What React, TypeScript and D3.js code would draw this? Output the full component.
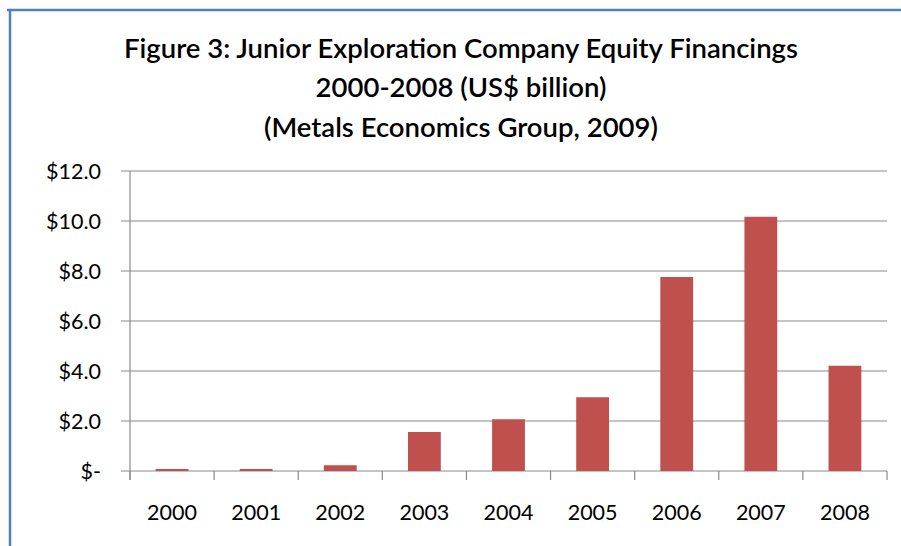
import React from "react";
import * as d3 from "d3";

const years = ["2000", "2001", "2002", "2003", "2004", "2005", "2006", "2007", "2008"];
const values = [0.08, 0.08, 0.23, 1.56, 2.07, 2.95, 7.76, 10.17, 4.21];
const yTicks = [0, 2, 4, 6, 8, 10, 12];
const titleLines = [
  "Figure 3: Junior Exploration Company Equity Financings",
  "2000-2008 (US$ billion)",
  "(Metals Economics Group, 2009)",
];

const W = 901;
const H = 546;
const FONT = "Lato, 'Open Sans', sans-serif";

export default function App() {
  const x = d3.scaleBand<string>().domain(years).range([130, 887]).paddingInner(0).paddingOuter(0);
  const y = d3.scaleLinear().domain([0, 12]).range([471, 171]);
  const bw = x.bandwidth() * 0.39;
  const fmt = (v: number) => (v === 0 ? "$-" : "$" + d3.format(".1f")(v));
  const tickYs = years.map((_, i) => 130 + i * x.bandwidth()).concat([887]);

  return (
    <svg width={W} height={H} style={{ position: "absolute", left: 0, top: 0, background: "#fff" }}>
      <rect x={0} y={0} width={W} height={H} fill="#fff" />
      <line x1={7} x2={W} y1={10} y2={10} stroke="#4F81BD" strokeWidth={2.5} />
      <line x1={10} x2={10} y1={9} y2={H} stroke="#4F81BD" strokeWidth={2.5} />
      {titleLines.map((t, i) => (
        <text key={i} x={461} y={48 + i * 39.5} dy="0.35em" textAnchor="middle" fontFamily={FONT} fontSize={27.5} fontWeight={600} fill="#000">
          {t}
        </text>
      ))}
      {yTicks.map((t) => (
        <g key={t}>
          <line x1={121} x2={887} y1={y(t)} y2={y(t)} stroke="#8a8a8a" strokeWidth={1.2} />
          <text x={101} y={y(t)} dy="0.35em" textAnchor="end" fontFamily={FONT} fontSize={21.5} fill="#000">
            {fmt(t)}
          </text>
        </g>
      ))}
      <line x1={130} x2={130} y1={171} y2={480} stroke="#8a8a8a" strokeWidth={1.2} />
      {tickYs.map((tx, i) => (
        <line key={i} x1={tx} x2={tx} y1={471} y2={480} stroke="#8a8a8a" strokeWidth={1.2} />
      ))}
      {years.map((yr, i) => {
        const cx = (x(yr) as number) + x.bandwidth() / 2;
        return (
          <g key={yr}>
            <rect x={cx - bw / 2} y={y(values[i])} width={bw} height={y(0) - y(values[i])} fill="#C0504D" />
            <text x={cx} y={512} dy="0.35em" textAnchor="middle" fontFamily={FONT} fontSize={21.5} fill="#000">
              {yr}
            </text>
          </g>
        );
      })}
    </svg>
  );
}
